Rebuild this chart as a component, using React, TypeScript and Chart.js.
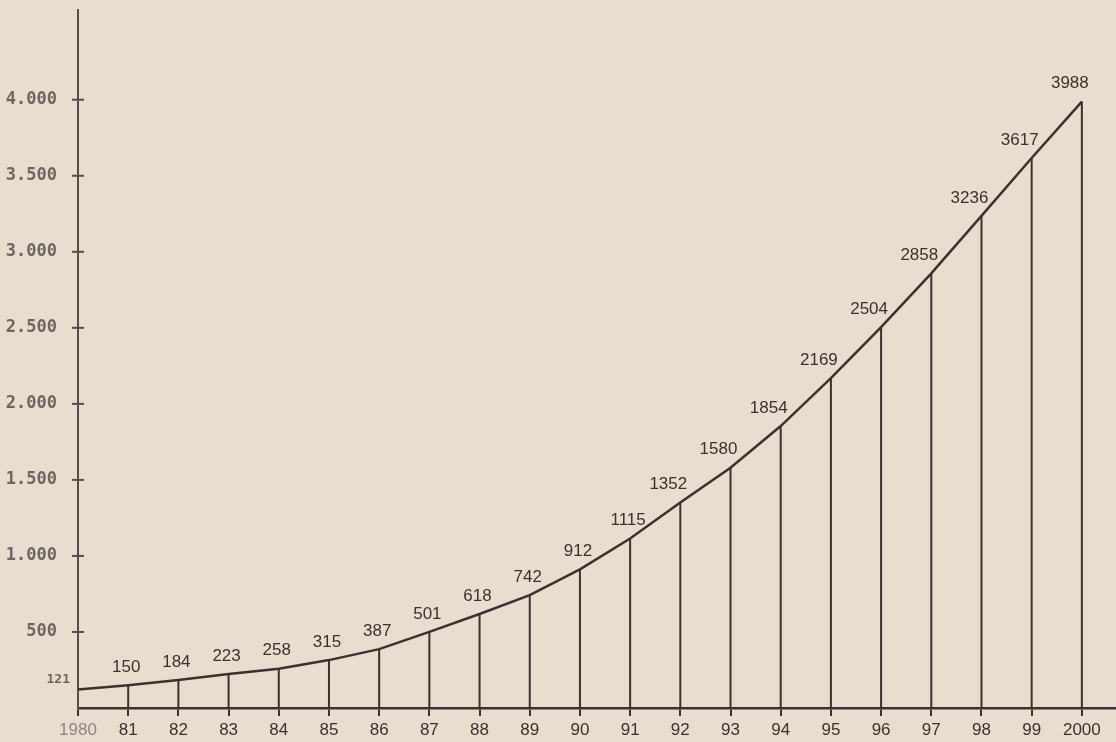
import React, { useEffect, useRef } from 'react';
import { Chart, registerables } from 'chart.js';

Chart.register(...registerables);

// ---- data ----
const years = [1980, 1981, 1982, 1983, 1984, 1985, 1986, 1987, 1988, 1989, 1990, 1991, 1992, 1993, 1994, 1995, 1996, 1997, 1998, 1999, 2000];
const values = [121, 150, 184, 223, 258, 315, 387, 501, 618, 742, 912, 1115, 1352, 1580, 1854, 2169, 2504, 2858, 3236, 3617, 3988];
const xTickLabels = ['1980', '81', '82', '83', '84', '85', '86', '87', '88', '89', '90', '91', '92', '93', '94', '95', '96', '97', '98', '99', '2000'];
const yTickValues = [500, 1000, 1500, 2000, 2500, 3000, 3500, 4000];
const yTickLabels = ['500', '1.000', '1.500', '2.000', '2.500', '3.000', '3.500', '4.000'];

const INK = '#3a322f';
const AXIS = '#554d49';
const GREY = '#6e6662';
const BG = '#e9ddd0';

export default function App() {
  const ref = useRef<HTMLCanvasElement>(null);

  useEffect(() => {
    document.body.style.margin = '0';
    const canvas = ref.current;
    if (!canvas) return;

    const background = {
      id: 'background',
      beforeDraw(chart: any) {
        const { ctx, width, height } = chart;
        ctx.save();
        ctx.fillStyle = BG;
        ctx.fillRect(0, 0, width, height);
        ctx.restore();
      },
    };

    const dropLines = {
      id: 'dropLines',
      beforeDatasetsDraw(chart: any) {
        const { ctx } = chart;
        const yScale = chart.scales.y;
        const meta = chart.getDatasetMeta(0);
        ctx.save();
        ctx.strokeStyle = INK;
        ctx.lineWidth = 2;
        meta.data.forEach((pt: any, i: number) => {
          if (i === 0) return;
          ctx.beginPath();
          ctx.moveTo(pt.x, pt.y);
          ctx.lineTo(pt.x, yScale.bottom);
          ctx.stroke();
        });
        ctx.restore();
      },
    };

    const yCrossTicks = {
      id: 'yCrossTicks',
      afterDraw(chart: any) {
        const { ctx } = chart;
        const yScale = chart.scales.y;
        const x = chart.chartArea.left;
        ctx.save();
        ctx.strokeStyle = AXIS;
        ctx.lineWidth = 2;
        yTickValues.forEach((v) => {
          const y = yScale.getPixelForValue(v);
          ctx.beginPath();
          ctx.moveTo(x - 6, y);
          ctx.lineTo(x + 6, y);
          ctx.stroke();
        });
        ctx.restore();
      },
    };

    const valueLabels = {
      id: 'valueLabels',
      afterDatasetsDraw(chart: any) {
        const { ctx } = chart;
        const meta = chart.getDatasetMeta(0);
        ctx.save();
        meta.data.forEach((pt: any, i: number) => {
          const text = String(values[i]);
          if (i === 0) {
            ctx.font = 'bold 13px "DejaVu Sans Mono", monospace';
            ctx.fillStyle = GREY;
            ctx.textAlign = 'right';
            ctx.textBaseline = 'middle';
            ctx.fillText(text, pt.x - 8, pt.y - 10);
            return;
          }
          const dx = years[i] >= 1992 ? -12 : -2;
          ctx.font = '17px "Liberation Sans", Arial, sans-serif';
          ctx.fillStyle = INK;
          ctx.textAlign = 'center';
          ctx.textBaseline = 'middle';
          ctx.fillText(text, pt.x + dx, pt.y - 18);
        });
        ctx.restore();
      },
    };

    const chart = new Chart(canvas, {
      type: 'line',
      data: {
        datasets: [
          {
            data: years.map((x, i) => ({ x, y: values[i] })),
            borderColor: INK,
            borderWidth: 2.5,
            pointRadius: 0,
            pointHoverRadius: 0,
            tension: 0,
            fill: false,
          },
        ],
      },
      options: {
        animation: false,
        responsive: true,
        maintainAspectRatio: false,
        layout: { padding: { top: 10, left: 0, right: 0, bottom: 0 } },
        plugins: {
          legend: { display: false },
          tooltip: { enabled: false },
        },
        events: [],
        scales: {
          x: {
            type: 'linear',
            min: 1980,
            max: 2000.68,
            afterBuildTicks: (scale: any) => {
              scale.ticks = years.map((v) => ({ value: v }));
            },
            afterFit: (scale: any) => {
              scale.height = 34;
              scale.paddingLeft = 0;
              scale.paddingRight = 0;
            },
            grid: {
              display: true,
              drawOnChartArea: false,
              drawTicks: true,
              tickLength: 8,
              color: INK,
              lineWidth: 2,
            },
            border: { display: true, color: INK, width: 2.5 },
            ticks: {
              autoSkip: false,
              maxRotation: 0,
              padding: 4,
              font: { family: '"Liberation Sans", Arial, sans-serif', size: 17 },
              color: (ctx: any) => (ctx.tick && ctx.tick.value === 1980 ? '#8d8682' : INK),
              callback: (value: any) => {
                const idx = years.indexOf(Number(value));
                return idx >= 0 ? xTickLabels[idx] : '';
              },
            },
          },
          y: {
            type: 'linear',
            min: 0,
            max: 4590,
            afterBuildTicks: (scale: any) => {
              scale.ticks = yTickValues.map((v) => ({ value: v }));
            },
            afterFit: (scale: any) => {
              scale.width = 78;
              scale.paddingTop = 0;
              scale.paddingBottom = 0;
            },
            grid: { display: false, drawTicks: false },
            border: { display: true, color: AXIS, width: 2 },
            ticks: {
              padding: 21,
              font: { family: '"DejaVu Sans Mono", monospace', size: 17, weight: 'bold' },
              color: GREY,
              callback: (value: any) => {
                const idx = yTickValues.indexOf(Number(value));
                return idx >= 0 ? yTickLabels[idx] : '';
              },
            },
          },
        },
      },
      plugins: [background, dropLines, valueLabels, yCrossTicks],
    } as any);

    return () => chart.destroy();
  }, []);

  return (
    <div style={{ position: 'relative', width: 1116, height: 742, background: BG }}>
      <canvas ref={ref} />
    </div>
  );
}
